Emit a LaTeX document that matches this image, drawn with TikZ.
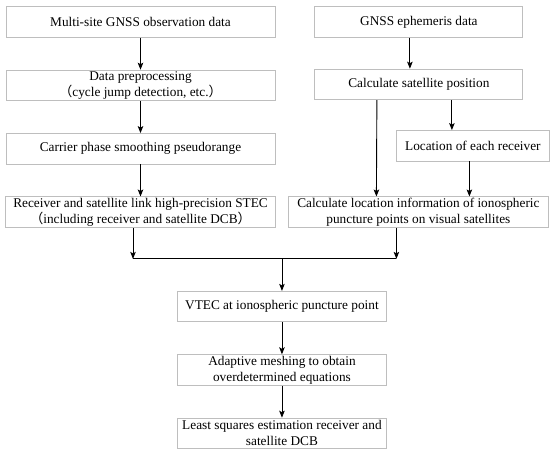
\documentclass[tikz,border=0pt]{standalone}
\usepackage{fontspec}
\setmainfont{Liberation Serif}
\newfontfamily\cjk{Noto Sans CJK SC}
\usetikzlibrary{arrows.meta, positioning, calc}
\definecolor{boxgray}{RGB}{190,190,190}
\tikzstyle{process} = [rectangle, text centered, draw=boxgray, line width=0.9pt, minimum height=30.5pt, inner sep=0pt, align=center, font=\fontsize{13.3}{16}\selectfont]
\tikzstyle{arrow} = [line width=0.9pt, -{Stealth[length=7pt,width=5.5pt,inset=1.5pt]}]
\tikzstyle{link} = [line width=0.9pt]

\begin{document}
\begin{tikzpicture}[node distance=32pt]
			\useasboundingbox (0,0) rectangle (550pt,-449pt);
			% Nodes
			\node (obs) [process, minimum width=269pt] at (140.5pt,-22pt) {Multi-site GNSS observation data};
			\node (pre) [process, minimum width=269pt, below=of obs] {Data preprocessing\\{\cjk （}cycle jump detection, etc.{\cjk ）}};
			\node (carrier) [process, minimum width=269pt, below=of pre] {Carrier phase smoothing pseudorange};
			\node (stec) [process, minimum width=270pt, below=of carrier] {Receiver and satellite link high-precision STEC\\{\cjk （}including receiver and satellite DCB{\cjk ）}};
			\node (eph) [process, minimum width=208pt, right=39pt of obs] {GNSS ephemeris data};
			\node (satpos) [process, minimum width=208pt, below=31pt of eph] {Calculate satellite position};
			\node (recv) [process, minimum width=153pt, below=30pt of satpos, xshift=54pt] {Location of each receiver};
			\node (ipp) [process, minimum width=260pt, right=12pt of stec] {Calculate location information of ionospheric\\puncture points on visual satellites};
			\coordinate (join) at ($(stec.south)!0.5!(ipp.south) + (2.5pt,-31pt)$);
			\node (vtec) [process, minimum width=209pt, below=of join] {VTEC at ionospheric puncture point};
			\node (mesh) [process, minimum width=209pt, below=of vtec] {Adaptive meshing to obtain\\overdetermined equations};
			\node (lsq) [process, minimum width=209pt, below=of mesh] {Least squares estimation receiver and\\satellite DCB};
			% Arrows
			\draw [arrow] (obs.south) -- (pre.north);
			\draw [arrow] (pre.south) -- (carrier.north);
			\draw [arrow] (carrier.south) -- (stec.north);
			\draw [arrow] ([xshift=-9pt]eph.south) -- ([xshift=-9pt]satpos.north);
			\draw [arrow] ([xshift=-42pt]satpos.south) -- ([xshift=-42pt]ipp.north);
			\draw [arrow] ([xshift=33pt]satpos.south) -- ([xshift=33pt]satpos.south |- recv.north);
			\draw [arrow] ([xshift=-3.5pt]recv.south) -- ([xshift=-3.5pt]recv.south |- ipp.north);
			\draw [arrow] ([xshift=-7.5pt]stec.south) -- ([xshift=-7.5pt]stec.south |- join);
			\draw [arrow] ([xshift=-22pt]ipp.south) -- ([xshift=-22pt]ipp.south |- join);
			\draw [link] ([xshift=-7.5pt]stec.south |- join) -- ([xshift=-22pt]ipp.south |- join);
			\draw [arrow] (join) -- (vtec.north);
			\draw [arrow] (vtec.south) -- (mesh.north);
			\draw [arrow] (mesh.south) -- (lsq.north);
		\end{tikzpicture}
\end{document}
